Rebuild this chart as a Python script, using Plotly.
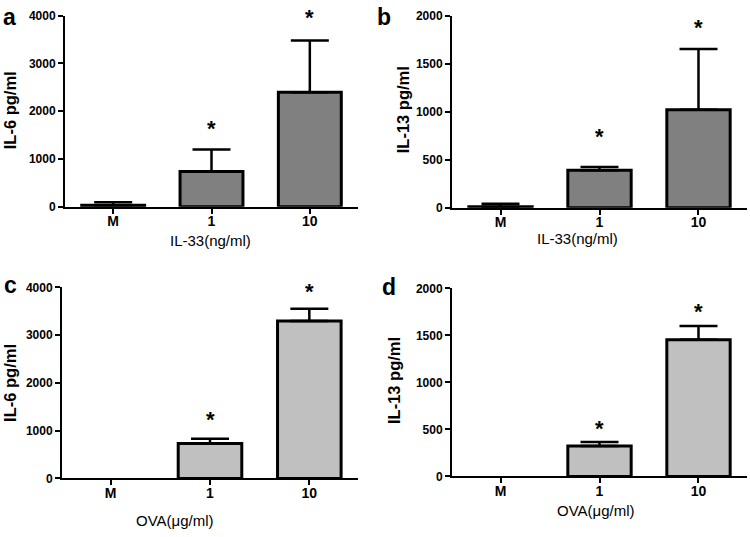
import plotly.graph_objects as go

categories = ["M", "1", "10"]

# Panel a: IL-6, IL-33 stimulation
a_vals = [30, 735, 2395]
a_err_top = [90, 1197, 3483]
a_star = [None, 1700, 4035]

# Panel b: IL-13, IL-33 stimulation
b_vals = [10, 390, 1020]
b_err_top = [40, 424, 1654]
b_star = [None, 770, 1905]

# Panel c: IL-6, OVA stimulation
c_vals = [0, 730, 3300]
c_err_top = [0, 830, 3555]
c_star = [None, 1306, 3973]

# Panel d: IL-13, OVA stimulation
d_vals = [0, 325, 1455]
d_err_top = [0, 366, 1600]
d_star = [None, 539, 1782]

panels = [
    dict(letter="a", vals=a_vals, top=a_err_top, star=a_star, ymax=4000, dtick=1000,
         ytitle="IL-6 pg/ml", xtitle="IL-33(ng/ml)", color="#808080"),
    dict(letter="b", vals=b_vals, top=b_err_top, star=b_star, ymax=2000, dtick=500,
         ytitle="IL-13 pg/ml", xtitle="IL-33(ng/ml)", color="#808080"),
    dict(letter="c", vals=c_vals, top=c_err_top, star=c_star, ymax=4000, dtick=1000,
         ytitle="IL-6 pg/ml", xtitle="OVA(μg/ml)", color="#c0c0c0"),
    dict(letter="d", vals=d_vals, top=d_err_top, star=d_star, ymax=2000, dtick=500,
         ytitle="IL-13 pg/ml", xtitle="OVA(μg/ml)", color="#c0c0c0"),
]

W, H = 750, 537
# plot-area boxes in pixels (x0, x1, ytop, ybottom)
boxes = [(65, 358, 9, 205), (452, 747, 9, 206), (62, 358, 288, 484), (452, 747, 289, 482)]
letter_pos = [(9, 10), (384, 10), (10, 285), (389, 287)]
ytitle_pos = [(10, 106), (403, 106), (10, 386), (394, 384)]
xtitle_pos = [(210, 240), (577, 238), (175, 527), (596, 517)]

FONT = "Liberation Sans, Arial, sans-serif"
fig = go.Figure()
annotations = []
layout = {}

for i, (p, box) in enumerate(zip(panels, boxes)):
    n = i + 1
    xa = "x" if n == 1 else f"x{n}"
    ya = "y" if n == 1 else f"y{n}"
    x0, x1, yt, yb = box
    px_per_unit = (yb - yt) / p["ymax"]
    # a zero mean is not drawn at all (no bar, no error bar)
    y_plot = [v if v > 0 else None for v in p["vals"]]
    err_plus = [t - v for v, t in zip(p["vals"], p["top"])]
    fig.add_trace(go.Bar(
        x=list(range(len(categories))), y=y_plot, xaxis=xa, yaxis=ya, width=0.64,
        marker=dict(color=p["color"], line=dict(color="black", width=3)),
        error_y=dict(type="data", symmetric=False, array=err_plus,
                     arrayminus=[0, 0, 0], color="black", thickness=2.5, width=19),
        showlegend=False, cliponaxis=False,
    ))
    layout["xaxis" if n == 1 else f"xaxis{n}"] = dict(
        domain=[x0 / W, x1 / W], anchor=ya, range=[-0.49, 2.49],
        tickmode="array", tickvals=list(range(len(categories))), ticktext=categories,
        showline=True, linewidth=2, linecolor="black", ticks="outside",
        ticklen=5, tickwidth=2, tickcolor="black", showgrid=False, zeroline=False,
        ticklabelstandoff=-4,
        tickfont=dict(family=FONT, size=14, color="black", weight="bold"),
        fixedrange=True,
    )
    layout["yaxis" if n == 1 else f"yaxis{n}"] = dict(
        domain=[1 - yb / H, 1 - yt / H], anchor=xa, range=[0, p["ymax"]],
        dtick=p["dtick"], showline=True, linewidth=2, linecolor="black",
        ticks="outside", ticklen=5, tickwidth=2, tickcolor="black",
        showgrid=False, zeroline=False,
        tickfont=dict(family=FONT, size=12, color="black", weight="bold"),
        fixedrange=True,
    )
    for idx, s in enumerate(p["star"]):
        if s is None:
            continue
        y_anchor = min(s, p["ymax"])
        extra = (s - y_anchor) * px_per_unit
        annotations.append(dict(x=idx, y=y_anchor, xref=xa, yref=ya, text="*", showarrow=False,
                                yshift=extra - 3,
                                font=dict(family=FONT, size=22, color="black", weight="bold")))
    lx, ly = letter_pos[i]
    annotations.append(dict(x=lx / W, y=1 - ly / H, xref="paper", yref="paper", text=p["letter"],
                            showarrow=False, xanchor="center", yanchor="middle",
                            font=dict(family=FONT, size=23, color="black", weight="bold")))
    tx, ty = ytitle_pos[i]
    annotations.append(dict(x=tx / W, y=1 - ty / H, xref="paper", yref="paper", text=p["ytitle"],
                            showarrow=False, textangle=-90, xanchor="center", yanchor="middle",
                            font=dict(family=FONT, size=16.5, color="black", weight="bold")))
    tx, ty = xtitle_pos[i]
    annotations.append(dict(x=tx / W, y=1 - ty / H, xref="paper", yref="paper", text=p["xtitle"],
                            showarrow=False, xanchor="center", yanchor="middle",
                            font=dict(family=FONT, size=15, color="black")))

fig.update_layout(
    width=W, height=H, margin=dict(l=0, r=0, t=0, b=0),
    paper_bgcolor="white", plot_bgcolor="white",
    annotations=annotations, **layout,
)
fig.write_html("out.html", config={"displayModeBar": False},
               post_script="document.body.style.margin='0';")
